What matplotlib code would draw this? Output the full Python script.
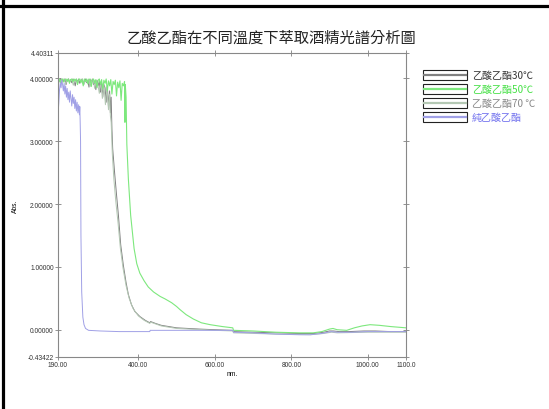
import matplotlib
matplotlib.use("Agg")
import matplotlib.pyplot as plt
from matplotlib.lines import Line2D
from matplotlib.patches import Rectangle

wl_30 = [190, 193, 196, 199, 202, 205, 208, 211, 214, 217, 220, 223, 226, 229, 232, 235,
         238, 241, 244, 247, 250, 253, 256, 259, 262, 265, 268, 271, 274, 277, 280, 283,
         286, 289, 292, 295, 298, 301, 304, 307, 310, 313, 316, 319, 322, 325, 327, 329,
         331, 333, 338, 343, 348, 354, 361, 368, 374, 382, 391, 404, 418, 430, 432, 445,
         460, 480, 500, 530, 560, 600, 647, 649, 700, 760, 820, 860, 885, 900, 910, 925,
         950, 990, 1020, 1060, 1100]
abs_30 = [3.98, 3.95, 3.99, 3.92, 3.98, 3.96, 3.99, 3.90, 3.97, 3.99, 3.94, 3.98, 3.93, 3.99, 3.96, 3.88,
          3.98, 3.95, 3.99, 3.92, 3.97, 3.99, 3.91, 3.96, 3.99, 3.93, 3.97, 3.86, 3.98, 3.94, 3.99, 3.90,
          3.96, 3.82, 3.97, 3.88, 3.95, 3.78, 3.93, 3.70, 3.90, 3.85, 3.62, 3.88, 3.55, 3.80, 3.45, 3.70,
          3.20, 2.88, 2.50, 2.15, 1.82, 1.35, 1.02, 0.75, 0.56, 0.40, 0.29, 0.21, 0.15, 0.11, 0.13, 0.10,
          0.07, 0.05, 0.03, 0.02, 0.01, 0.00, -0.01, -0.03, -0.04, -0.05, -0.06, -0.06, -0.04, -0.02, -0.02, -0.03,
          -0.03, -0.02, -0.02, -0.03, -0.03]

wl_50 = [190, 193, 196, 199, 202, 205, 208, 211, 214, 217, 220, 223, 226, 229, 232, 235,
         238, 241, 244, 247, 250, 253, 256, 259, 262, 265, 268, 271, 274, 277, 280, 283,
         286, 289, 292, 295, 298, 301, 304, 307, 310, 313, 316, 319, 322, 325, 328, 331,
         334, 337, 340, 343, 346, 349, 352, 355, 358, 361, 364, 365, 366, 368, 370, 374,
         380, 389, 396, 404, 415, 426, 440, 457, 470, 487, 500, 509, 525, 544, 565, 588,
         620, 647, 649, 700, 760, 820, 857, 880, 900, 909, 920, 945, 965, 985, 1006, 1030,
         1060, 1100]
abs_50 = [3.96, 3.99, 3.93, 3.98, 3.99, 3.94, 3.98, 3.99, 3.95, 3.99, 3.92, 3.98, 3.99, 3.94, 3.99, 3.96,
          3.99, 3.90, 3.98, 3.99, 3.93, 3.98, 3.88, 3.99, 3.95, 3.99, 3.91, 3.98, 3.99, 3.87, 3.97, 3.99,
          3.92, 3.98, 3.85, 3.97, 3.99, 3.90, 3.98, 3.83, 3.97, 3.92, 3.99, 3.80, 3.96, 3.88, 3.98, 3.75,
          3.95, 3.90, 3.97, 3.72, 3.94, 3.85, 3.96, 3.65, 3.92, 3.88, 3.95, 3.30, 3.90, 3.70, 2.95, 2.40,
          1.82, 1.29, 1.05, 0.90, 0.78, 0.68, 0.60, 0.53, 0.49, 0.43, 0.37, 0.32, 0.24, 0.17, 0.11, 0.08,
          0.05, 0.03, -0.01, -0.02, -0.04, -0.05, -0.05, -0.03, 0.01, 0.02, 0.00, -0.01, 0.03, 0.06, 0.08, 0.07,
          0.05, 0.03]

wl_70 = [190, 194, 198, 202, 206, 210, 214, 218, 222, 226, 230, 234, 238, 242, 246, 250,
         254, 258, 262, 266, 270, 274, 278, 282, 286, 290, 294, 298, 302, 306, 310, 314,
         318, 322, 325, 327, 329, 332, 336, 341, 347, 353, 360, 368, 376, 386, 400, 415,
         430, 432, 460, 500, 600, 647, 649, 760, 850, 885, 905, 920, 1000, 1100]
abs_70 = [3.97, 3.99, 3.94, 3.98, 3.99, 3.91, 3.97, 3.99, 3.95, 3.98, 3.89, 3.97, 3.99, 3.93, 3.98, 3.96,
          3.99, 3.90, 3.97, 3.94, 3.99, 3.87, 3.96, 3.98, 3.84, 3.95, 3.91, 3.76, 3.94, 3.68, 3.90, 3.58,
          3.86, 3.50, 3.75, 3.40, 3.30, 2.80, 2.40, 2.05, 1.70, 1.30, 0.98, 0.70, 0.50, 0.34, 0.22, 0.15,
          0.10, 0.12, 0.06, 0.02, -0.01, -0.02, -0.05, -0.07, -0.08, -0.06, -0.04, -0.05, -0.04, -0.04]

wl_pure = [190, 192, 194, 196, 198, 200, 202, 204, 206, 208, 210, 212, 214, 216, 218, 220,
           222, 224, 226, 228, 230, 232, 234, 236, 238, 240, 242, 244, 246, 247, 248, 249,
           250, 252, 255, 258, 262, 270, 300, 350, 400, 430, 431, 500, 600, 647, 649, 700,
           760, 820, 850, 880, 905, 920, 960, 1000, 1050, 1100]
abs_pure = [3.43, 3.60, 3.82, 3.93, 3.85, 3.97, 3.90, 3.80, 3.92, 3.75, 3.88, 3.70, 3.84, 3.66, 3.78, 3.62,
            3.80, 3.68, 3.56, 3.74, 3.60, 3.70, 3.52, 3.66, 3.48, 3.62, 3.45, 3.58, 3.42, 3.55, 3.30, 3.00,
            1.50, 0.60, 0.20, 0.08, 0.02, -0.01, -0.02, -0.03, -0.03, -0.03, -0.01, -0.01, -0.01, -0.01, -0.04, -0.05,
            -0.07, -0.08, -0.08, -0.06, -0.03, -0.04, -0.04, -0.03, -0.03, -0.03]

etiquetas = ["乙酸乙酯30℃", "乙酸乙酯50℃", "乙酸乙酯70 ℃", "純乙酸乙酯"]
colores_linea = ["#808080", "#7de87d", "#b4c8b4", "#a0a0e6"]
colores_texto = ["#333333", "#44e044", "#888888", "#7070ee"]

y_ticks = [-0.43422, 0.0, 1.0, 2.0, 3.0, 4.0, 4.40311]
y_labels = ["-0.43422", "0.00000", "1.00000", "2.00000", "3.00000", "4.00000", "4.40311"]
x_ticks = [190, 400, 600, 800, 1000, 1100]
x_labels = ["190.00", "400.00", "600.00", "800.00", "1000.00", "1100.0"]

cjk = ["Noto Sans CJK TC", "DejaVu Sans"]
W, H = 549, 410

fig = plt.figure(figsize=(5.49, 4.10), dpi=100)
ax = fig.add_axes([58 / W, 1 - 358 / H, 348 / W, 304 / H])

ax.plot(wl_30, abs_30, color=colores_linea[0], lw=0.7)
ax.plot(wl_70, abs_70, color=colores_linea[2], lw=0.7)
ax.plot(wl_50, abs_50, color=colores_linea[1], lw=0.8)
ax.plot(wl_pure, abs_pure, color=colores_linea[3], lw=0.7)

ax.set_xlim(190, 1100)
ax.set_ylim(-0.43422, 4.40311)
ax.set_xticks(x_ticks)
ax.set_xticklabels(x_labels, fontsize=4.8, family="Liberation Sans", color="#333333")
ax.set_yticks(y_ticks)
ax.set_yticklabels(y_labels, fontsize=4.8, family="Liberation Sans", color="#333333")
ax.tick_params(direction="inout", length=4, width=0.6, color="#808080", pad=1,
               top=True, right=True)
for s in ax.spines.values():
    s.set_color("#888888")
    s.set_linewidth(0.8)
ax.set_xlabel("nm.", fontsize=4.8, family="Liberation Sans", labelpad=1)
ax.set_ylabel("Abs.", fontsize=4.8, family="Liberation Sans", labelpad=6)

# Titulo
fig.text(271 / W, 1 - 38 / H, "乙酸乙酯在不同溫度下萃取酒精光譜分析圖",
         ha="center", va="center", fontsize=11, family=cjk, color="#222222")

# Leyenda con cajas
filas = [76, 90, 104, 118]
for fila, lab, cl, ct in zip(filas, etiquetas, colores_linea, colores_texto):
    yf = 1 - fila / H
    fig.add_artist(Rectangle((423 / W, yf - 5 / H), 44 / W, 10 / H, transform=fig.transFigure,
                             facecolor="white", edgecolor="#222222", lw=0.8))
    fig.add_artist(Line2D([424 / W, 466 / W], [yf, yf], transform=fig.transFigure,
                          color=cl, lw=1.6))
    fig.text(472 / W, yf, lab, ha="left", va="center", fontsize=7.2, family=cjk, color=ct)

# Bordes negros
fig.add_artist(Line2D([0, 1], [1 - 6.5 / H, 1 - 6.5 / H], transform=fig.transFigure,
                      color="black", lw=2.3))
fig.add_artist(Line2D([2.5 / W, 2.5 / W], [0, 1], transform=fig.transFigure,
                      color="black", lw=2.3))

fig.savefig("out.png", dpi=100)
